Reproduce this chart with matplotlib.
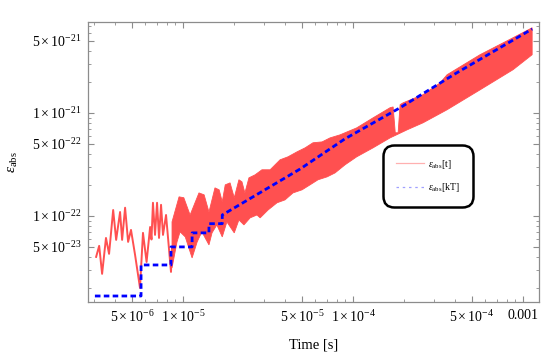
import numpy as np
import matplotlib
matplotlib.use('Agg')
from matplotlib import pyplot as plt
from matplotlib.ticker import FixedLocator, NullFormatter
from matplotlib.lines import Line2D

plt.rcParams['font.family'] = ['Liberation Serif', 'DejaVu Serif']
plt.rcParams['mathtext.fontset'] = 'custom'
plt.rcParams['mathtext.rm'] = 'Liberation Serif'
plt.rcParams['mathtext.it'] = 'Liberation Serif:italic'

#red curve, resolved oscillations at early times
red_t = [3.08e-6, 3.21e-6, 3.34e-6, 3.52e-6, 3.67e-6, 3.88e-6, 4.04e-6, 4.26e-6,
         4.38e-6, 4.56e-6, 4.75e-6, 4.94e-6, 5.22e-6, 5.58e-6, 5.81e-6, 6.10e-6,
         6.40e-6, 6.52e-6, 6.65e-6, 6.84e-6, 7.03e-6, 7.22e-6, 7.42e-6, 7.62e-6,
         7.94e-6, 8.49e-6, 8.61e-6]
red_eps = [4.0e-23, 5.12e-23, 2.74e-23, 6.11e-23, 4.28e-23, 1.14e-22, 5.85e-23, 1.09e-22,
           5.85e-23, 1.20e-22, 5.59e-23, 7.31e-23, 4.18e-23, 2.0e-23, 6.84e-23, 3.57e-23,
           7.8e-23, 5.9e-23, 1.34e-22, 6.54e-23, 1.34e-22, 6.11e-23, 1.28e-22, 6.54e-23,
           1.02e-22, 2.86e-23, 5.0e-23]

#dense part of red curve: upper and lower envelope of the band
up_t = [8.61e-6, 9.47e-6, 1.01e-5, 1.10e-5, 1.24e-5, 1.33e-5, 1.42e-5, 1.54e-5, 1.63e-5,
        1.70e-5, 1.77e-5, 1.89e-5, 2.00e-5, 2.13e-5, 2.22e-5, 2.31e-5, 2.44e-5, 2.65e-5,
        2.91e-5, 3.25e-5, 3.72e-5, 4.14e-5, 4.68e-5, 5.22e-5, 5.81e-5, 6.57e-5, 7.32e-5,
        8.38e-5, 1.05e-4, 1.31e-4, 1.65e-4, 1.72e-4, 1.77e-4, 1.84e-4, 1.89e-4, 1.97e-4,
        2.58e-4, 3.25e-4, 3.57e-4, 5.58e-4, 8.73e-4, 1.13e-3]
up_eps = [8.74e-23, 1.53e-22, 1.50e-22, 1.02e-22, 1.67e-22, 1.60e-22, 1.09e-22, 1.87e-22, 1.79e-22,
          1.37e-22, 2.0e-22, 2.09e-22, 1.50e-22, 2.24e-22, 2.14e-22, 1.67e-22, 2.34e-22, 2.50e-22,
          2.80e-22, 2.80e-22, 3.50e-22, 3.74e-22, 4.18e-22, 4.57e-22, 5.12e-22, 5.22e-22, 5.71e-22,
          6.11e-22, 7.14e-22, 8.93e-22, 1.12e-21, 1.14e-21, 6.4e-22, 6.4e-22, 1.20e-21, 1.25e-21,
          1.50e-21, 1.95e-21, 2.34e-21, 3.66e-21, 5.35e-21, 6.68e-21]
lo_t = [8.61e-6, 9.21e-6, 9.60e-6, 1.03e-5, 1.13e-5, 1.21e-5, 1.29e-5, 1.42e-5, 1.48e-5,
        1.58e-5, 1.70e-5, 1.81e-5, 2.00e-5, 2.13e-5, 2.28e-5, 2.48e-5, 2.72e-5, 2.84e-5,
        3.16e-5, 3.57e-5, 3.98e-5, 4.43e-5, 5.01e-5, 5.58e-5, 6.22e-5, 7.03e-5, 7.83e-5,
        8.97e-5, 1.05e-4, 1.31e-4, 1.65e-4, 2.08e-4, 2.58e-4, 3.57e-4, 5.58e-4, 8.73e-4, 1.13e-3]
lo_eps = [3.13e-23, 5.59e-23, 7.0e-23, 6.25e-23, 3.91e-23, 5.59e-23, 7.0e-23, 5.23e-23, 6.84e-23,
          8.18e-23, 6.25e-23, 8.74e-23, 6.84e-23, 9.14e-23, 8.18e-23, 9.57e-23, 1.02e-22, 9.57e-23,
          1.14e-22, 1.34e-22, 1.43e-22, 1.67e-22, 1.79e-22, 2.0e-22, 2.24e-22, 2.39e-22, 2.61e-22,
          3.13e-22, 3.74e-22, 4.57e-22, 5.71e-22, 6.84e-22, 8.0e-22, 1.07e-21, 1.67e-21, 2.62e-21, 3.66e-21]

#blue, eps at t = kT : staircase at the start, then a line
step_t = [3.03e-6, 5.66e-6, 8.49e-6, 1.13e-5, 1.42e-5, 1.70e-5]
step_eps = [1.67e-23, 3.34e-23, 5.0e-23, 6.84e-23, 8.4e-23, 1.02e-22]
kT_t = [4.88e-5, 8.97e-5, 1.89e-4, 4.0e-4, 1.13e-3]
kT_eps = [2.85e-22, 5.6e-22, 1.12e-21, 2.4e-21, 6.5e-21]

yticks = [5e-23, 1e-22, 5e-22, 1e-21, 5e-21]
ytick_labels = [r'$5\times10^{-23}$', r'$1\times10^{-22}$', r'$5\times10^{-22}$',
                r'$1\times10^{-21}$', r'$5\times10^{-21}$']
xticks = [5e-6, 1e-5, 5e-5, 1e-4, 5e-4, 1e-3]
xtick_labels = [r'$5\times10^{-6}$', r'$1\times10^{-5}$', r'$5\times10^{-5}$',
                r'$1\times10^{-4}$', r'$5\times10^{-4}$', '0.001']

red = '#ff5050'
framecol = '#8c8c8c'

fig = plt.figure(figsize=(5.45, 3.52), dpi=100)
ax = fig.add_axes([0.1615, 0.142, 0.8275, 0.7955])
ax.set_xscale('log')
ax.set_yscale('log')

ax.plot(red_t, red_eps, color=red, lw=1.4, solid_joinstyle='round')
ax.fill(np.concatenate([up_t, lo_t[::-1]]), np.concatenate([up_eps, lo_eps[::-1]]),
        color=red, lw=0.6)

bx = np.concatenate([np.repeat(step_t, 2)[1:], kT_t])
by = np.concatenate([np.repeat(step_eps, 2)[:-1], kT_eps])
ax.plot(bx, by, color='#0000ff', lw=2.0, dashes=(2.0, 1.2))

ax.set_xlim(2.76e-6, 1.24e-3)
ax.set_ylim(1.46e-23, 7.6e-21)

for axis, ticks, labels in [(ax.xaxis, xticks, xtick_labels), (ax.yaxis, yticks, ytick_labels)]:
    axis.set_major_locator(FixedLocator(ticks))
    axis.set_ticklabels(labels)
    lo, hi = ax.get_xlim() if axis is ax.xaxis else ax.get_ylim()
    minors = [m * 10.0**e for e in range(-24, -1) for m in range(1, 10)
              if lo <= m * 10.0**e <= hi and not any(abs(m * 10.0**e / t - 1) < 1e-6 for t in ticks)]
    axis.set_minor_locator(FixedLocator(minors))
    axis.set_minor_formatter(NullFormatter())

ax.tick_params(which='both', direction='in', top=True, right=True, color=framecol,
               labelsize=10, labelcolor='black', pad=5)
ax.tick_params(which='major', length=4, width=0.8)
ax.tick_params(which='minor', length=2.2, width=0.6)
for s in ax.spines.values():
    s.set_color(framecol)
    s.set_linewidth(0.9)

ax.set_xlabel('Time [s]', fontsize=10.5, labelpad=10)
ax.set_ylabel(r'$\epsilon_{\rm abs}$', fontsize=11, labelpad=8)

handles = [Line2D([], [], color='#ffb0b0', lw=0.9),
           Line2D([], [], color='#a0a0ff', lw=0.9, dashes=(2, 3))]
leg = ax.legend(handles, [r'$\epsilon_{\rm abs}\mathrm{[t]}$', r'$\epsilon_{\rm abs}\mathrm{[kT]}$'],
                loc='center', bbox_to_anchor=(0.754, 0.45), fontsize=7,
                frameon=True, fancybox=True, borderpad=1.0, labelspacing=1.1,
                handlelength=2.9, handletextpad=0.4, borderaxespad=0)
fr = leg.get_frame()
fr.set_edgecolor('black')
fr.set_linewidth(1.8)
fr.set_alpha(1)
fr.set_boxstyle('round,pad=0.3,rounding_size=1.1')

fig.savefig('out.png', dpi=100)
